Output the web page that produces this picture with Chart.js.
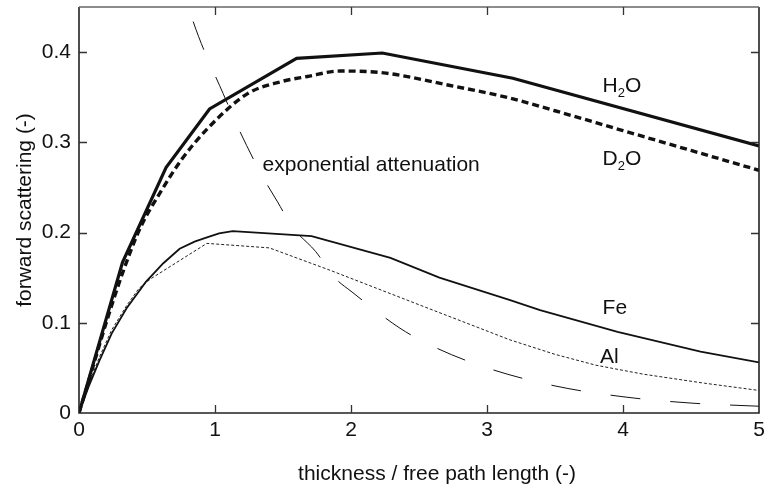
<!DOCTYPE html>
<html>
<head>
<meta charset="utf-8">
<script src="https://cdn.jsdelivr.net/npm/chart.js@4/dist/chart.umd.min.js"></script>
<style>
  html, body { margin: 0; padding: 0; background: #ffffff; }
  #wrap { width: 765px; height: 488px; }
</style>
</head>
<body>
<div id="wrap"><canvas id="c" width="765" height="488"></canvas></div>
<script>
// ---- data ----
const h2oX = [0, 0.32, 0.64, 0.96, 1.6, 2.23, 3.19, 5];
const h2oY = [0, 0.167, 0.272, 0.337, 0.393, 0.399, 0.371, 0.296];

const d2oX = [0, 0.1, 0.2, 0.32, 0.45, 0.6, 0.75, 0.95, 1.24, 1.48, 1.68, 1.92, 2.24, 2.73, 3.17, 3.5, 4, 4.5, 5];
const d2oY = [0, 0.05, 0.1, 0.155, 0.205, 0.245, 0.28, 0.316, 0.354, 0.367, 0.373, 0.379, 0.377, 0.363, 0.349, 0.335, 0.313, 0.291, 0.269];

const feX = [0, 0.07, 0.15, 0.24, 0.35, 0.49, 0.62, 0.74, 0.85, 0.93, 1.03, 1.13, 1.71, 2.29, 2.65, 3.17, 3.39, 3.96, 4.57, 5];
const feY = [0, 0.029, 0.058, 0.088, 0.116, 0.145, 0.166, 0.182, 0.19, 0.194, 0.199, 0.2015, 0.196, 0.172, 0.15, 0.125, 0.114, 0.09, 0.068, 0.056];

const alX = [0, 0.07, 0.15, 0.24, 0.35, 0.44, 0.53, 0.94, 1.4, 1.85, 2.5, 3.17, 3.5, 3.8, 4.15, 4.6, 5];
const alY = [0, 0.031, 0.062, 0.092, 0.119, 0.138, 0.149, 0.188, 0.183, 0.158, 0.12, 0.081, 0.065, 0.053, 0.043, 0.033, 0.025];

const expX = [0.7, 0.88, 1.06, 1.18, 1.35, 1.46, 1.57, 1.74, 1.88, 2.0, 2.36, 2.6, 3.0, 3.5, 4.0, 4.5, 5.0];
const expY = [0.497, 0.417, 0.354, 0.313, 0.262, 0.234, 0.206, 0.179, 0.15, 0.135, 0.094, 0.074, 0.05, 0.03, 0.018, 0.011, 0.0075];

const xTickVals = [0, 1, 2, 3, 4, 5];
const xTickLabels = ['0', '1', '2', '3', '4', '5'];
const yTickVals = [0, 0.1, 0.2, 0.3, 0.4];
const yTickLabels = ['0', '0.1', '0.2', '0.3', '0.4'];

const xTitle = 'thickness / free path length (-)';
const yTitle = 'forward scattering (-)';

// curve labels: main text, optional subscript and trailing text, anchor in data units
const curveLabels = [
  { main: 'H', sub: '2', rest: 'O', x: 3.85, y: 0.3555 },
  { main: 'D', sub: '2', rest: 'O', x: 3.85, y: 0.2747 },
  { main: 'Fe', sub: '', rest: '', x: 3.85, y: 0.1096 },
  { main: 'Al', sub: '', rest: '', x: 3.83, y: 0.0553 },
  { main: 'exponential attenuation', sub: '', rest: '', x: 1.35, y: 0.2685 }
];

const pts = (xs, ys) => xs.map((x, i) => ({ x: x, y: ys[i] }));

const FONT = "'Liberation Sans', Arial, sans-serif";
const INK = '#111111';

const framePlugin = {
  id: 'frame',
  afterDatasetsDraw(chart) {
    const { ctx, chartArea: a, scales } = chart;
    const xs = scales.x, ys = scales.y;
    ctx.save();
    ctx.lineWidth = 1.6;
    ctx.strokeStyle = '#222';
    ctx.beginPath();
    ctx.moveTo(a.left, a.top); ctx.lineTo(a.left, a.bottom); ctx.lineTo(a.right, a.bottom); ctx.lineTo(a.right, a.top);
    ctx.stroke();
    ctx.strokeStyle = '#666';
    ctx.beginPath(); ctx.moveTo(a.left, a.top); ctx.lineTo(a.right, a.top); ctx.stroke();
    const L = 8;
    ctx.lineWidth = 1.3;
    ctx.strokeStyle = '#333';
    xTickVals.forEach(v => {
      const px = Math.round(xs.getPixelForValue(v)) + 0.5;
      if (px <= a.left + 2 || px >= a.right - 2) return;
      ctx.beginPath();
      ctx.moveTo(px, a.bottom); ctx.lineTo(px, a.bottom - L);
      ctx.moveTo(px, a.top); ctx.lineTo(px, a.top + L);
      ctx.stroke();
    });
    yTickVals.forEach(v => {
      const py = Math.round(ys.getPixelForValue(v)) + 0.5;
      if (py >= a.bottom - 2 || py <= a.top + 2) return;
      ctx.beginPath();
      ctx.moveTo(a.left, py); ctx.lineTo(a.left + L, py);
      ctx.moveTo(a.right, py); ctx.lineTo(a.right - L, py);
      ctx.stroke();
    });
    ctx.fillStyle = INK;
    ctx.textBaseline = 'alphabetic';
    ctx.textAlign = 'left';
    curveLabels.forEach(l => {
      let px = xs.getPixelForValue(l.x);
      const py = ys.getPixelForValue(l.y);
      ctx.font = '21px ' + FONT;
      ctx.fillText(l.main, px, py);
      px += ctx.measureText(l.main).width;
      if (l.sub) {
        ctx.font = '13px ' + FONT;
        ctx.fillText(l.sub, px, py + 5);
        px += ctx.measureText(l.sub).width;
        ctx.font = '21px ' + FONT;
        ctx.fillText(l.rest, px, py);
      }
    });
    ctx.font = '21px ' + FONT;
    ctx.textAlign = 'center';
    ctx.textBaseline = 'alphabetic';
    ctx.fillText(xTitle, 437, 480);
    ctx.save();
    ctx.translate(31, (a.top + a.bottom) / 2);
    ctx.rotate(-Math.PI / 2);
    ctx.fillText(yTitle, 0, 0);
    ctx.restore();
    ctx.restore();
  }
};

new Chart(document.getElementById('c'), {
  type: 'line',
  data: {
    datasets: [
      { label: 'H2O', data: pts(h2oX, h2oY), borderColor: INK, borderWidth: 3.2, pointRadius: 0, tension: 0, fill: false },
      { label: 'D2O', data: pts(d2oX, d2oY), borderColor: INK, borderWidth: 3.4, borderDash: [7, 4], pointRadius: 0, cubicInterpolationMode: 'monotone', fill: false },
      { label: 'Fe', data: pts(feX, feY), borderColor: INK, borderWidth: 1.8, pointRadius: 0, tension: 0, fill: false },
      { label: 'Al', data: pts(alX, alY), borderColor: '#222', borderWidth: 1, borderDash: [3, 2], pointRadius: 0, tension: 0, fill: false },
      { label: 'exponential attenuation', data: pts(expX, expY), borderColor: INK, borderWidth: 1, borderDash: [30, 30], pointRadius: 0, cubicInterpolationMode: 'monotone', fill: false }
    ]
  },
  options: {
    responsive: false,
    animation: false,
    devicePixelRatio: 1,
    layout: { padding: { left: 0, right: 6, top: 7, bottom: 0 } },
    plugins: { legend: { display: false }, tooltip: { enabled: false }, title: { display: false } },
    scales: {
      x: {
        type: 'linear', min: 0, max: 5,
        grid: { display: false, drawTicks: false },
        border: { display: false },
        afterBuildTicks: s => { s.ticks = xTickVals.map(v => ({ value: v })); },
        afterFit: s => { s.height = 75; s.paddingLeft = 0; s.paddingRight = 0; },
        ticks: {
          padding: 5, color: INK, maxRotation: 0, autoSkip: false,
          font: { family: FONT, size: 21 },
          callback: (v, i) => xTickLabels[i]
        }
      },
      y: {
        type: 'linear', min: 0, max: 0.45,
        grid: { display: false, drawTicks: false },
        border: { display: false },
        afterBuildTicks: s => { s.ticks = yTickVals.map(v => ({ value: v })); },
        afterFit: s => { s.width = 79; s.paddingTop = 0; s.paddingBottom = 0; },
        ticks: {
          padding: 8, color: INK, autoSkip: false,
          font: { family: FONT, size: 21 },
          callback: (v, i) => yTickLabels[i]
        }
      }
    }
  },
  plugins: [framePlugin]
});
</script>
</body>
</html>
